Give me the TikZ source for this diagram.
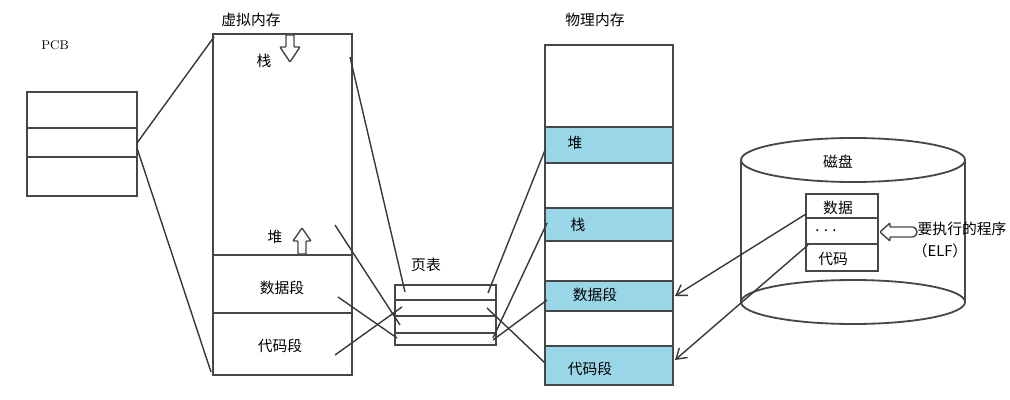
\documentclass[tikz,border=0pt]{standalone}
\usepackage{fontspec}
\newfontfamily\cjk{Noto Sans CJK SC}
\usetikzlibrary{arrows.meta}
\definecolor{cellblue}{HTML}{99D6E8}
\tikzset{
  hand/.style={draw=black!72, line width=1.3pt},
  link/.style={draw=black!78, line width=1pt},
  lbl/.style={font=\cjk\fontsize{10.5}{12}\selectfont, inner sep=0pt},
  blockarrow/.style={draw=black!72, line width=1pt, fill=white, rounded corners=0.6pt},
}
\begin{document}
\begin{tikzpicture}[x=0.025cm,y=-0.025cm]
\useasboundingbox (0,0) rectangle (1010,400);
% PCB
\node (pcbt) at (55,45) {\small PCB};
\draw[hand] (27,92) rectangle (137,196);
\draw[hand] (27,128) -- (137,128) (27,157) -- (137,157);
\coordinate (pcba) at (137,143); \coordinate (pcbb) at (137,148);
% Virtual memory
\node[lbl] (vmt) at (251,20) {虚拟内存};
\draw[hand] (213,34) rectangle (352,375);
\draw[hand] (213,255) -- (352,255) (213,313) -- (352,313);
\coordinate (vmtl) at (214,37); \coordinate (vmbl) at (211,372);
\node[lbl] (vstack) at (264,61) {栈};
\node[lbl] (vheap) at (275,237) {堆};
\node[lbl] (vdata) at (282,288) {数据段};
\node[lbl] (vcode) at (280,346) {代码段};
\draw[blockarrow] (286,35) -- (294,35) -- (294,47) -- (300,47) -- (290,62) -- (280,47) -- (286,47) -- cycle;
\draw[blockarrow] (298,254) -- (306,254) -- (306,241) -- (311,241) -- (302,228) -- (293,241) -- (298,241) -- cycle;
\coordinate (vs) at (350,57); \coordinate (vh) at (335,225);
\coordinate (vd) at (338,297); \coordinate (vc) at (335,355);
% Page table
\node[lbl] (ptt) at (426,265) {页表};
\draw[hand] (395,285) rectangle (496,345);
\draw[hand] (395,300) -- (496,300) (395,316) -- (496,316) (395,333) -- (496,333);
\coordinate (ts) at (405,292); \coordinate (th) at (400,325);
\coordinate (td) at (397,338); \coordinate (tc) at (402,307);
\coordinate (ta) at (488,293); \coordinate (tb) at (493,338);
\coordinate (tcc) at (487,308); \coordinate (tdd) at (493,340);
% Physical memory
\node[lbl] (pmt) at (595,20) {物理内存};
\fill[cellblue] (545,127) rectangle (673,163) (545,208) rectangle (673,241)
  (545,281) rectangle (673,311) (545,346) rectangle (673,385);
\draw[hand] (545,45) rectangle (673,385);
\draw[hand] (545,127) -- (673,127) (545,163) -- (673,163) (545,208) -- (673,208)
  (545,241) -- (673,241) (545,281) -- (673,281) (545,311) -- (673,311) (545,346) -- (673,346);
\node[lbl] (pheap) at (575,143) {堆};
\node[lbl] (pstack) at (578,225) {栈};
\node[lbl] (pdata) at (595,295) {数据段};
\node[lbl] (pcode) at (590,369) {代码段};
\coordinate (ph) at (545,150); \coordinate (ps) at (547,223);
\coordinate (pd) at (547,300); \coordinate (pc) at (545,363);
\coordinate (pdr) at (675,296); \coordinate (pcr) at (675,360);
% Disk
\draw[hand] (853,160) ellipse [x radius=112, y radius=22];
\draw[hand] (853,302) ellipse [x radius=112, y radius=22];
\draw[hand] (741,160) -- (741,302) (965,160) -- (965,302);
\node[lbl] (disk) at (838,162) {磁盘};
\draw[hand, fill=white] (806,194) rectangle (878,271);
\draw[hand] (806,218) -- (878,218) (806,244) -- (878,244);
\node[lbl] (ddata) at (838,208) {数据};
\node[lbl] (ddots) at (826,231) {. . .};
\node[lbl] (dcode) at (833,259) {代码};
\draw[blockarrow] (880,232) -- (890,223) -- (890,227) -- (912,227) arc (-90:90:5) -- (890,237) -- (890,241) -- cycle;
\node[lbl] (elf) at (962,229) {要执行的程序};
\node[lbl] (elfb) at (940,251) {（ELF）};
\coordinate (dd) at (806,214); \coordinate (dc) at (808,245);
% Links
\draw[link] (pcba) -- (vmtl);
\draw[link] (pcbb) -- (vmbl);
\draw[link] (vs) -- (ts);
\draw[link] (vh) -- (th);
\draw[link] (vd) -- (td);
\draw[link] (vc) -- (tc);
\draw[link] (ta) -- (ph);
\draw[link] (tb) -- (ps);
\draw[link] (tdd) -- (pd);
\draw[link] (tcc) -- (pc);
\draw[link, -{Straight Barb[length=7pt,width=9pt]}] (dd) -- (pdr);
\draw[link, -{Straight Barb[length=7pt,width=9pt]}] (dc) -- (pcr);
\end{tikzpicture}
\end{document}
